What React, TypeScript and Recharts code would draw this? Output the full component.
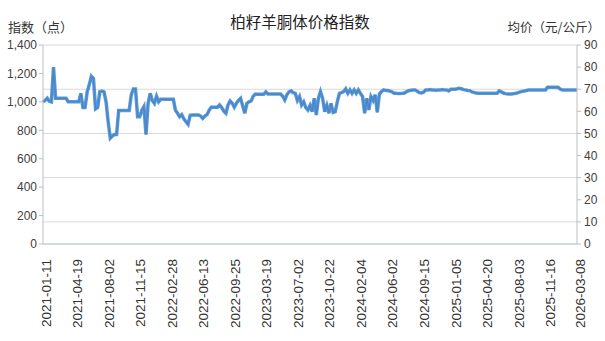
import React from 'react';
import { ComposedChart, Line, XAxis, YAxis, CartesianGrid } from 'recharts';

// 指数（点）— weekly readings, index 0..254
const indexValues: number[] = [
  1000, 1010, 1025, 1005, 1000, 1245, 1025, 1025, 1025, 1025,
  1025, 1025, 1000, 1000, 1000, 1000, 1000, 1000, 1060, 960,
  960, 1070, 1120, 1180, 1165, 950, 960, 1070, 1075, 1070,
  1000, 860, 745, 760, 770, 770, 940, 940, 940, 940,
  940, 940, 1050, 1090, 1090, 896, 896, 940, 966, 770,
  990, 1060, 1010, 990, 1040, 1000, 1018, 1018, 1018, 1018,
  1018, 1018, 1018, 940, 920, 896, 910, 880, 860, 842,
  905, 908, 908, 908, 908, 900, 884, 900, 910, 940,
  962, 962, 962, 962, 978, 960, 935, 920, 978, 1006,
  990, 962, 990, 1010, 1025, 970, 920, 990, 1000, 1006,
  1040, 1055, 1053, 1053, 1053, 1053, 1070, 1055, 1055, 1055,
  1055, 1055, 1055, 1055, 1040, 1013, 1050, 1070, 1077, 1065,
  1060, 1010, 1037, 978, 1000, 960, 943, 975, 931, 1025,
  908, 1025, 1072, 1025, 931, 975, 920, 990, 926, 931,
  1002, 1060, 1065, 1072, 1091, 1060, 1084, 1060, 1084, 1060,
  1084, 1060, 1037, 920, 1025, 943, 1037, 1010, 1050, 926,
  1055, 1072, 1084, 1080, 1080, 1075, 1070, 1060, 1060, 1058,
  1058, 1060, 1062, 1072, 1079, 1082, 1084, 1084, 1075, 1065,
  1063, 1068, 1084, 1084, 1086, 1084, 1084, 1082, 1084, 1084,
  1086, 1084, 1084, 1077, 1089, 1089, 1089, 1092, 1096, 1092,
  1086, 1084, 1080, 1079, 1070, 1067, 1062, 1060, 1060, 1060,
  1060, 1060, 1060, 1060, 1060, 1060, 1060, 1077, 1070, 1062,
  1058, 1055, 1055, 1056, 1058, 1060, 1065, 1070, 1074, 1077,
  1080, 1084, 1084, 1084, 1084, 1084, 1084, 1084, 1084, 1084,
  1103, 1103, 1103, 1103, 1103, 1103, 1090, 1084, 1084, 1084,
  1084, 1084, 1084, 1084, 1084,
];

// Category (week) positions that carry a date label, and the labels
const tickPositions: number[] = [0, 15, 30, 45, 60, 75, 90, 105, 120, 135, 150, 165, 180, 195, 210, 225, 240, 254];
const tickLabels: string[] = [
  '2021-01-11', '2021-04-19', '2021-08-02', '2021-11-15', '2022-02-28', '2022-06-13',
  '2022-09-25', '2023-03-19', '2023-07-02', '2023-10-22', '2024-02-04', '2024-06-02',
  '2024-09-15', '2025-01-05', '2025-04-20', '2025-08-03', '2025-11-16', '2026-03-08',
];

const leftTicks: number[] = [0, 200, 400, 600, 800, 1000, 1200, 1400];
const rightTicks: number[] = [0, 10, 20, 30, 40, 50, 60, 70, 80, 90];

const data = indexValues.map((v, i) => ({ i, v }));

const labelFor = (pos: number) => {
  const k = tickPositions.indexOf(pos);
  return k >= 0 ? tickLabels[k] : '';
};

const DateTick = (props: any) => {
  const { x, y, payload } = props;
  return (
    <text
      transform={`translate(${x + 4},${y + 7}) rotate(-90)`}
      textAnchor="end"
      dominantBaseline="middle"
      fontSize={13.5}
      fontFamily="'Liberation Sans', Arial, sans-serif"
      fill="#333"
    >
      {labelFor(payload.value)}
    </text>
  );
};

const numFont = "'Liberation Sans', Arial, sans-serif";
const cjkFont = "'Noto Sans CJK SC', 'Noto Sans', sans-serif";

export default function App() {
  return (
    <div style={{ position: 'absolute', left: 0, top: 0, width: 605, height: 341, background: '#fff' }}>
      <div style={{ position: 'absolute', left: 0, width: 600, top: 10, textAlign: 'center', fontFamily: cjkFont, fontSize: 15.5, color: '#222' }}>
        柏籽羊胴体价格指数
      </div>
      <div style={{ position: 'absolute', left: 8, top: 17, fontFamily: cjkFont, fontSize: 13, color: '#333' }}>
        指数（点）
      </div>
      <div style={{ position: 'absolute', right: 5, top: 17, fontFamily: cjkFont, fontSize: 12.5, color: '#333' }}>
        均价（元/公斤）
      </div>
      <ComposedChart
        width={605}
        height={341}
        data={data}
        margin={{ top: 45, right: 0, bottom: 0, left: 0 }}
      >
        <CartesianGrid yAxisId="right" vertical={false} stroke="#D9D9D9" strokeWidth={1} />
        <XAxis
          dataKey="i"
          type="number"
          domain={[0, 254]}
          ticks={tickPositions}
          interval={0}
          height={97}
          tick={<DateTick />}
          tickLine={false}
          axisLine={{ stroke: '#C9D3E3', strokeWidth: 1.5 }}
        />
        <YAxis
          yAxisId="left"
          orientation="left"
          domain={[0, 1400]}
          ticks={leftTicks}
          width={43}
          tickFormatter={(v: number) => v.toLocaleString('en-US')}
          tick={{ fontSize: 12, fill: '#404040', fontFamily: numFont }}
          tickSize={4}
          tickMargin={2}
          tickLine={{ stroke: '#BFBFBF' }}
          axisLine={{ stroke: '#BFBFBF' }}
        />
        <YAxis
          yAxisId="right"
          orientation="right"
          domain={[0, 90]}
          allowDataOverflow
          ticks={rightTicks}
          width={28}
          tick={{ fontSize: 12, fill: '#404040', fontFamily: numFont }}
          tickSize={4}
          tickMargin={3}
          tickLine={{ stroke: '#BFBFBF' }}
          axisLine={{ stroke: '#BFBFBF' }}
        />
        <Line
          yAxisId="right"
          type="linear"
          dataKey="v"
          stroke="none"
          strokeWidth={0}
          dot={false}
          activeDot={false}
          legendType="none"
          isAnimationActive={false}
        />
        <Line
          yAxisId="left"
          type="linear"
          dataKey="v"
          stroke="#5B9BD5"
          strokeWidth={3.5}
          dot={false}
          activeDot={false}
          isAnimationActive={false}
        />
        <Line
          yAxisId="left"
          type="linear"
          dataKey="v"
          stroke="#4A84CC"
          strokeWidth={1.4}
          dot={false}
          activeDot={false}
          isAnimationActive={false}
        />
      </ComposedChart>
    </div>
  );
}
